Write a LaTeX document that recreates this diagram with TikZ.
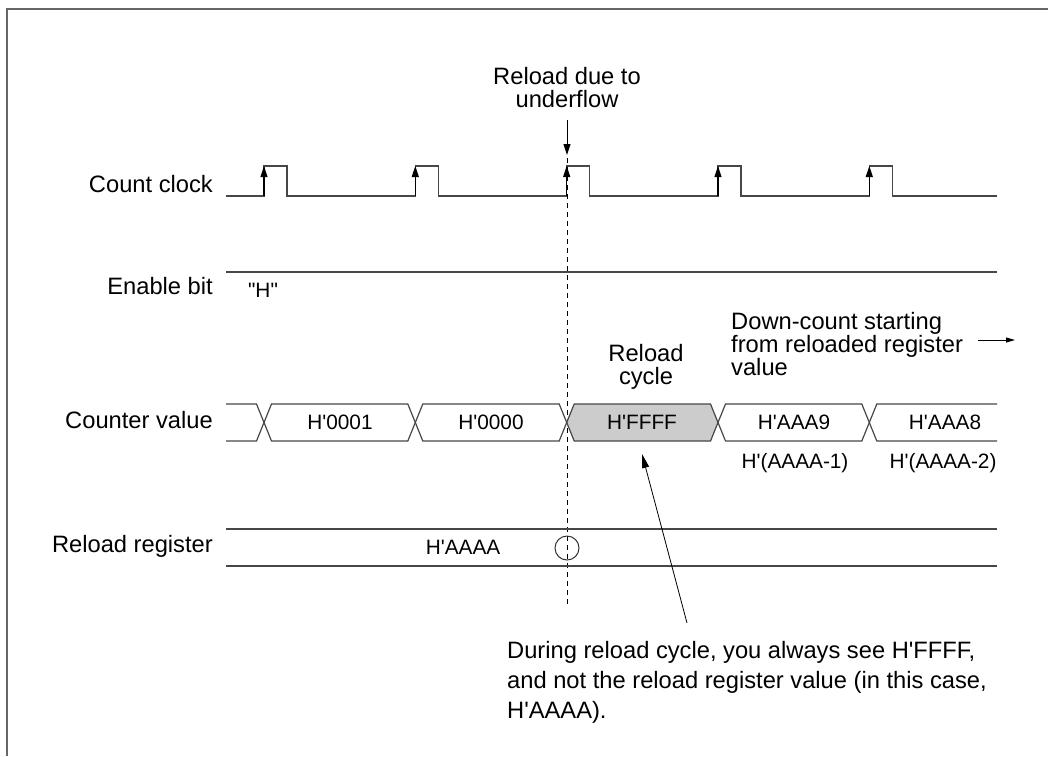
\documentclass[tikz,border=0pt]{standalone}
\usepackage{fontspec}
\setmainfont{Liberation Sans}
\usetikzlibrary{arrows.meta}
\newcommand\myap{\textquotesingle}
\newcommand\myqq{\textquotedbl}
\begin{document}
\begin{tikzpicture}[x=1pt,y=-1pt,
  sig/.style={draw=black!72, line width=1.2pt},
  lbl/.style={font=\fontsize{23.7}{23}\selectfont, inner sep=0pt},
  val/.style={font=\fontsize{20.8}{22}\selectfont, inner sep=0pt},
  edgearr/.style={-{Triangle[length=11pt,width=7pt]}, draw=black, line width=1.1pt},
  callout/.style={-{Triangle[length=14pt,width=7pt]}, draw=black, line width=0.8pt},
  vdash/.style={draw=black, line width=0.8pt, dash pattern=on 5pt off 4pt},
  bus/.style={draw=black!72, line width=1.2pt, line join=miter},
  reloadfill/.style={fill=black!20},
]
\useasboundingbox (0,0) rectangle (1048,756);
\fill[white] (0,0) rectangle (1048,756);
% frame (only left and top edges visible)
\draw[black!60, line width=1.2pt] (7,756) -- (7,9) -- (1048,9);

% ---------- Count clock ----------
\def\hi{166}\def\lo{196}
\draw[sig] (226,\lo)
  foreach \e in {264,415.3,566.7,718,869.3} {
    -- (\e,\lo) -- (\e,\hi) -- ({\e+23},\hi) -- ({\e+23},\lo)
  } -- (997,\lo);
\foreach \e [count=\i] in {264,415.3,566.7,718,869.3} {
  \coordinate (rb\i) at (\e,\lo);
  \coordinate (rt\i) at (\e,\hi);
  \draw[edgearr] (rb\i) -- (rt\i);
}

% ---------- reload marker ----------
\coordinate (dtop) at (567,158);
\coordinate (dbot) at (567,606);
\draw[vdash] (dtop) -- (dbot);
\node[lbl, align=center, anchor=base] (rdu) at (567,107) {Reload due to\\underflow};
\coordinate (uaS) at (567,120);
\coordinate (uaE) at (567,155);
\draw[edgearr, line width=1pt] (uaS) -- (uaE);

% ---------- Enable bit ----------
\draw[sig] (226,272) -- (997,272);

% ---------- Counter value bus ----------
\def\bt{404}\def\bb{441}\def\bm{422.5}\def\d{7.5}
\filldraw[bus, reloadfill] (566.7,\bm) -- (574.2,\bt) -- (710.5,\bt) -- (718,\bm) -- (710.5,\bb) -- (574.2,\bb) -- cycle;
\draw[bus] (226,\bt) -- (256.5,\bt) -- (264,\bm) -- (256.5,\bb) -- (226,\bb);
\foreach \a/\b in {264/415.3, 415.3/566.7, 718/869.3} {
  \draw[bus] (\a,\bm) -- ({\a+\d},\bt) -- ({\b-\d},\bt) -- (\b,\bm) -- ({\b-\d},\bb) -- ({\a+\d},\bb) -- cycle;
}
\draw[bus] (997,\bt) -- (876.8,\bt) -- (869.3,\bm) -- (876.8,\bb) -- (997,\bb);

\node[val, anchor=base] (v1) at (340,429) {H\myap0001};
\node[val, anchor=base] (v2) at (491,429) {H\myap0000};
\node[val, anchor=base] (v3) at (642,429) {H\myap FFFF};
\node[val, anchor=base] (v4) at (794,429) {H\myap AAA9};
\node[val, anchor=base] (v5) at (945,429) {H\myap AAA8};
\node[val, anchor=base] (v4b) at (795,468) {H\myap(AAAA-1)};
\node[val, anchor=base] (v5b) at (943,468) {H\myap(AAAA-2)};

% ---------- Reload register ----------
\draw[sig] (226,529) -- (997,529);
\draw[sig] (226,566) -- (997,566);
\node[val, anchor=base] (raaaa) at (463,554) {H\myap AAAA};
\node[circle, draw=black!80, line width=1pt, minimum size=24pt, inner sep=0pt] (ring) at (567,548) {};

% ---------- signal labels ----------
\node[lbl, anchor=base east] (lclk) at (213,192) {Count clock};
\node[lbl, anchor=base east] (len) at (213,294) {Enable bit};
\node[lbl, anchor=base east] (lcv) at (213,428) {Counter value};
\node[lbl, anchor=base east] (lrr) at (213,552) {Reload register};
\node[val, anchor=base] (hlev) at (263,297) {\myqq H\myqq};

% ---------- annotations ----------
\node[lbl, align=center, anchor=base] (rcyc) at (646,384) {Reload\\cycle};
\node[lbl, align=left, anchor=base west] (down) at (731,375) {Down-count starting\\from reloaded register\\value};
\coordinate (daS) at (978,340);
\coordinate (daE) at (1015,340);
\draw[-{Triangle[length=9pt,width=5pt]}, line width=1pt] (daS) -- (daE);

\node[lbl, align=left, anchor=base west, font=\fontsize{23.7}{30}\selectfont] (note) at (507,718)
  {During reload cycle, you always see H\myap FFFF,\\and not the reload register value (in this case,\\H\myap AAAA).};
\coordinate (coS) at (687,623);
\coordinate (coE) at (642,454);
\draw[callout] (coS) -- (coE);
\end{tikzpicture}
\end{document}
